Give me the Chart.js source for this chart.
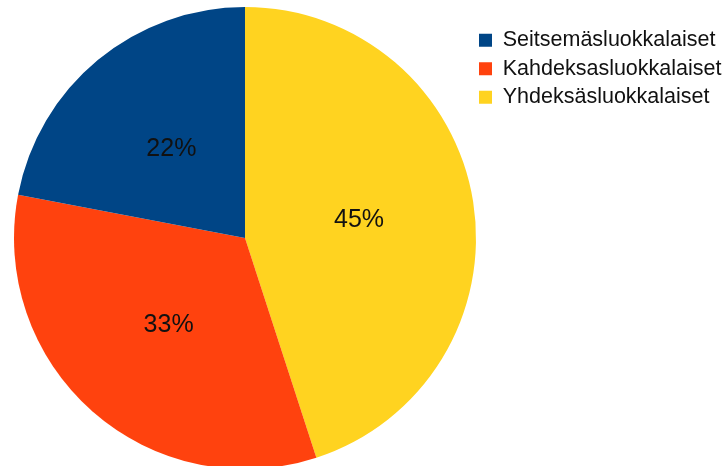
<!DOCTYPE html>
<html>
<head>
<meta charset="utf-8">
<script src="https://cdn.jsdelivr.net/npm/chart.js@4/dist/chart.umd.min.js"></script>
<style>
  html, body { margin: 0; padding: 0; background: #ffffff; overflow: hidden; }
  #wrap { position: relative; width: 725px; height: 466px; }
</style>
</head>
<body>
<div id="wrap"><canvas id="c"></canvas></div>
<script>
// Categories in legend order
const categories = ["Seitsemäsluokkalaiset", "Kahdeksasluokkalaiset", "Yhdeksäsluokkalaiset"];
// Percent shares
const shares = [22, 33, 45];
const colors = ["#004586", "#ff420e", "#ffd320"];

// The reference draws slices counter-clockwise from 12 o'clock;
// Chart.js draws clockwise, so feed the data reversed and reverse the legend.
const order = [2, 1, 0];
const dataLabels = order.map(i => categories[i]);
const dataValues = order.map(i => shares[i]);
const dataColors = order.map(i => colors[i]);

const pctLabels = {
  id: 'pctLabels',
  afterDatasetsDraw(chart) {
    const ctx = chart.ctx;
    const meta = chart.getDatasetMeta(0);
    ctx.save();
    ctx.font = '25px "Liberation Sans", Arial, sans-serif';
    ctx.fillStyle = '#111111';
    ctx.textAlign = 'center';
    ctx.textBaseline = 'middle';
    meta.data.forEach((arc, i) => {
      const p = arc.getProps(['x', 'y', 'startAngle', 'endAngle', 'outerRadius'], true);
      const mid = (p.startAngle + p.endAngle) / 2;
      const r = p.outerRadius * 0.5;
      ctx.fillText(dataValues[i] + '%', p.x + Math.cos(mid) * r, p.y + Math.sin(mid) * r);
    });
    ctx.restore();
  }
};

new Chart(document.getElementById('c'), {
  type: 'pie',
  data: {
    labels: dataLabels,
    datasets: [{
      data: dataValues,
      backgroundColor: dataColors,
      borderWidth: 0,
      radius: 231,
      clip: false
    }]
  },
  options: {
    responsive: true,
    maintainAspectRatio: false,
    animation: false,
    layout: { padding: { top: 22.5, bottom: 12.5, left: 18, right: 0 } },
    plugins: {
      tooltip: { enabled: false },
      legend: {
        position: 'right',
        align: 'start',
        reverse: true,
        maxWidth: 253,
        labels: {
          boxWidth: 13,
          boxHeight: 13,
          padding: 7,
          color: '#111111',
          font: { family: '"Liberation Sans", Arial, sans-serif', size: 21.5 }
        }
      }
    }
  },
  plugins: [pctLabels]
});
</script>
</body>
</html>
